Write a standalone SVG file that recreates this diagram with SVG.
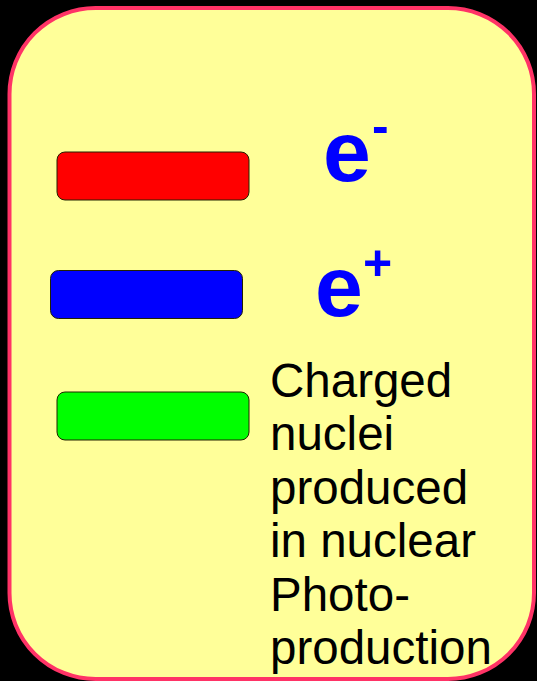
<svg xmlns="http://www.w3.org/2000/svg" width="537" height="681" viewBox="0 0 537 681">
  <style>
    .panel { fill: #ffff99; stroke: #ff3366; stroke-width: 4; }
    .bar { stroke: #222200; stroke-width: 1; }
    .sym { font-family: "Liberation Sans", Arial, sans-serif; font-weight: bold; fill: #0000ff; }
    .label { font-family: "Liberation Sans", Arial, sans-serif; font-size: 47.5px; fill: #000000; }
  </style>
  <!-- background -->
  <rect x="0" y="0" width="537" height="681" fill="#000000"/>
  <!-- legend panel -->
  <rect class="panel" x="9.5" y="8" width="524.5" height="671" rx="86" ry="86"/>

  <!-- electron track -->
  <g id="legend-electron">
    <rect class="bar" x="57" y="152" width="192" height="48" rx="8" ry="8" fill="#ff0000"/>
    <text class="sym" x="323" y="181" font-size="86">e</text>
    <text class="sym" x="372" y="143" font-size="50">-</text>
  </g>

  <!-- positron track -->
  <g id="legend-positron">
    <rect class="bar" x="50.5" y="270.5" width="192" height="48" rx="8" ry="8" fill="#0000ff"/>
    <text class="sym" x="315" y="316" font-size="86">e</text>
    <text class="sym" x="363" y="280" font-size="50">+</text>
  </g>

  <!-- charged nuclei track -->
  <g id="legend-nuclei">
    <rect class="bar" x="57" y="392" width="192" height="48" rx="8" ry="8" fill="#00ff00"/>
    <text class="label" x="270">
      <tspan x="270" y="396.5">Charged</tspan>
      <tspan x="270" y="450">nuclei</tspan>
      <tspan x="270" y="503.5">produced</tspan>
      <tspan x="270" y="557">in nuclear</tspan>
      <tspan x="270" y="610.5">Photo-</tspan>
      <tspan x="270" y="664">production</tspan>
    </text>
  </g>
</svg>
